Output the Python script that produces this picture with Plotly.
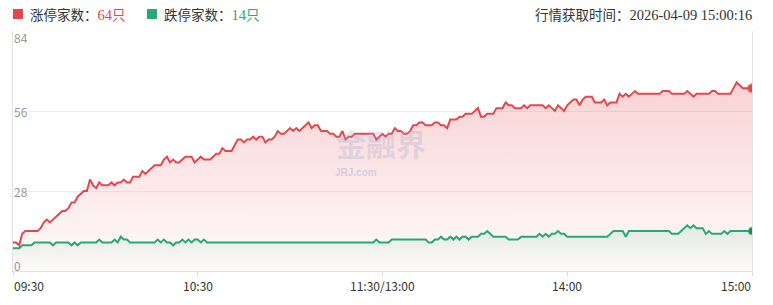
import plotly.graph_objects as go

# ---------------- data ----------------
tick_pos = [0, 60, 120, 180, 240]
tick_labels = ["09:30", "10:30", "11:30/13:00", "14:00", "15:00"]
y_ticks = [0, 28, 56, 84]

minutes = list(range(241))

up_limit = [
    10, 10, 9, 13, 14, 14, 14, 14, 14, 15,
    17, 18, 17, 18, 19, 20, 21, 21, 22, 24,
    24, 26, 27, 28, 28, 32, 30, 29, 31, 30,
    30, 30, 31, 30, 31, 31, 32, 31, 31, 33,
    33, 33, 35, 34, 35, 36, 37, 37, 37, 39,
    40, 38, 39, 38, 38, 39, 40, 40, 40, 38,
    39, 40, 39, 39, 39, 40, 41, 41, 43, 42,
    42, 42, 44, 46, 46, 45, 46, 46, 47, 46,
    47, 47, 45, 46, 46, 47, 49, 48, 48, 49,
    50, 49, 50, 49, 50, 51, 52, 50, 51, 51,
    49, 49, 49, 48, 48, 47, 47, 49, 46, 47,
    47, 48, 48, 48, 48, 48, 48, 48, 46, 47,
    48, 47, 48, 48, 50, 49, 49, 48, 48, 49,
    51, 51, 52, 52, 51, 51, 51, 52, 52, 51,
    51, 50, 53, 53, 53, 54, 54, 55, 55, 55,
    56, 57, 54, 54, 55, 55, 55, 57, 57, 57,
    59, 58, 58, 57, 57, 57, 58, 57, 58, 58,
    58, 58, 58, 57, 58, 57, 56, 58, 57, 56,
    58, 59, 60, 60, 58, 60, 61, 61, 61, 59,
    59, 59, 60, 58, 59, 59, 59, 62, 61, 62,
    61, 62, 63, 62, 62, 62, 62, 62, 62, 62,
    62, 63, 63, 63, 62, 62, 62, 62, 62, 63,
    62, 61, 62, 62, 62, 62, 62, 63, 63, 62,
    62, 62, 62, 62, 64, 66, 65, 64, 64, 64,
    64,
]

down_limit = [
    8, 8, 8, 9, 9, 9, 9, 10, 10, 10,
    10, 10, 10, 9, 10, 10, 10, 10, 10, 9,
    10, 9, 10, 10, 10, 10, 10, 10, 11, 10,
    10, 10, 10, 11, 10, 12, 11, 11, 10, 10,
    10, 10, 10, 10, 10, 10, 10, 11, 10, 11,
    10, 10, 9, 10, 10, 11, 10, 11, 10, 11,
    11, 10, 11, 10, 10, 10, 10, 10, 10, 10,
    10, 10, 10, 10, 10, 10, 10, 10, 10, 10,
    10, 10, 10, 10, 10, 10, 10, 10, 10, 10,
    10, 10, 10, 10, 10, 10, 10, 10, 10, 10,
    10, 10, 10, 10, 10, 10, 10, 10, 10, 10,
    10, 10, 10, 10, 10, 10, 10, 10, 11, 10,
    10, 10, 10, 11, 11, 11, 11, 11, 11, 11,
    11, 11, 11, 11, 11, 10, 10, 11, 11, 12,
    11, 11, 12, 11, 12, 11, 12, 12, 11, 12,
    12, 12, 13, 13, 14, 13, 12, 12, 12, 12,
    12, 11, 11, 11, 11, 12, 12, 12, 12, 12,
    12, 13, 12, 13, 12, 13, 13, 14, 13, 13,
    12, 12, 12, 12, 12, 12, 12, 12, 12, 12,
    12, 12, 12, 12, 13, 14, 14, 14, 14, 12,
    14, 14, 14, 14, 14, 14, 14, 14, 14, 14,
    14, 14, 14, 14, 13, 13, 13, 14, 15, 16,
    15, 16, 15, 15, 15, 13, 14, 13, 13, 13,
    13, 14, 13, 14, 14, 14, 14, 14, 14, 14,
    14,
]
assert len(up_limit) == 241 and len(down_limit) == 241

up_count = up_limit[-1]
down_count = down_limit[-1]
fetch_time = "2026-04-09 15:00:16"

# ---------------- style ----------------
RED = "#e4474d"
GREEN = "#27a874"
W, H = 773, 305
L, R, T, B = 13, 752, 31, 271


def pxx(p):
    return (p - L) / (R - L)


def pxy(p):
    return (B - p) / (B - T)


SANS = "Noto Sans CJK SC, Noto Sans, sans-serif"
SERIF = "Liberation Serif, DejaVu Serif, serif"
NUM_STYLE = f"font-family:{SERIF};font-size:14.5px"

fig = go.Figure()

fig.add_trace(go.Scatter(
    x=minutes, y=up_limit, mode="lines",
    line=dict(color=RED, width=2),
    fill="tozeroy",
    fillgradient=dict(type="vertical", start=0, stop=max(up_limit),
                      colorscale=[[0, "rgba(228,71,77,0.02)"], [1, "rgba(228,71,77,0.24)"]]),
    hoverinfo="skip", showlegend=False,
))
fig.add_trace(go.Scatter(
    x=minutes, y=down_limit, mode="lines",
    line=dict(color=GREEN, width=2),
    fill="tozeroy",
    fillgradient=dict(type="vertical", start=0, stop=max(down_limit),
                      colorscale=[[0, "rgba(39,168,116,0.0)"], [1, "rgba(39,168,116,0.13)"]]),
    hoverinfo="skip", showlegend=False,
))
fig.add_trace(go.Scatter(
    x=[minutes[-1]], y=[up_limit[-1]], mode="markers",
    marker=dict(size=8, color=RED, line=dict(width=3, color="rgba(228,71,77,0.35)")),
    hoverinfo="skip", showlegend=False,
))
fig.add_trace(go.Scatter(
    x=[minutes[-1]], y=[down_limit[-1]], mode="markers",
    marker=dict(size=7, color="#1f8a4c", line=dict(width=2, color="rgba(39,168,116,0.4)")),
    hoverinfo="skip", showlegend=False,
))

annotations = []
# y tick labels
for v in y_ticks:
    shift = 0
    if v == max(y_ticks):
        shift = -6
    elif v == min(y_ticks):
        shift = 6
    annotations.append(dict(
        x=0, xref="paper", y=v, yref="y", text=str(v), showarrow=False,
        xanchor="left", yanchor="middle", yshift=shift, xshift=-1,
        font=dict(size=12, color="#999999", family=SANS),
    ))
# x tick labels
for i, (p, lab) in enumerate(zip(tick_pos, tick_labels)):
    anchor = "center"
    if i == 0:
        anchor = "left"
    elif i == len(tick_pos) - 1:
        anchor = "right"
    annotations.append(dict(
        x=p, xref="x", y=0, yref="paper", text=lab, showarrow=False,
        xanchor=anchor, yanchor="top", yshift=-4,
        xshift=-1 if anchor == "left" else (1 if anchor == "right" else 0),
        font=dict(size=12, color="#333333", family=SANS),
    ))

# legend texts
annotations.append(dict(
    x=pxx(28), xref="paper", y=pxy(14), yref="paper", showarrow=False,
    xanchor="left", yanchor="middle",
    text=f"涨停家数：<span style='color:{RED};{NUM_STYLE}'>{up_count}</span><span style='color:{RED}'>只</span>",
    font=dict(size=13.5, color="#333333", family=SANS),
))
annotations.append(dict(
    x=pxx(162), xref="paper", y=pxy(14), yref="paper", showarrow=False,
    xanchor="left", yanchor="middle",
    text=f"跌停家数：<span style='color:{GREEN};{NUM_STYLE}'>{down_count}</span><span style='color:{GREEN}'>只</span>",
    font=dict(size=13.5, color="#333333", family=SANS),
))
annotations.append(dict(
    x=pxx(754), xref="paper", y=pxy(14), yref="paper", showarrow=False,
    xanchor="right", yanchor="middle",
    text=f"行情获取时间：<span style='{NUM_STYLE}'>{fetch_time}</span>",
    font=dict(size=13.5, color="#333333", family=SANS),
))

# watermark
annotations.append(dict(
    x=pxx(381), xref="paper", y=pxy(143), yref="paper", showarrow=False,
    xanchor="center", yanchor="middle", text="<b>金融界</b>", borderpad=0,
    font=dict(size=30, color="rgba(170,170,210,0.32)", family=SANS),
))
annotations.append(dict(
    x=pxx(334), xref="paper", y=pxy(172), yref="paper", showarrow=False,
    xanchor="left", yanchor="middle", text="<b>JRJ.com</b>", borderpad=0,
    font=dict(size=10, color="rgba(170,170,210,0.45)", family="Liberation Sans, Arial"),
))

shapes = [
    dict(type="rect", xref="paper", yref="paper",
         x0=pxx(13), x1=pxx(23), y0=pxy(19), y1=pxy(9),
         fillcolor=RED, line=dict(width=0)),
    dict(type="rect", xref="paper", yref="paper",
         x0=pxx(147), x1=pxx(157), y0=pxy(19), y1=pxy(9),
         fillcolor=GREEN, line=dict(width=0)),
]

fig.update_layout(
    width=W, height=H,
    margin=dict(l=L, r=W - R, t=T, b=H - B, pad=0),
    paper_bgcolor="white", plot_bgcolor="white",
    showlegend=False,
    annotations=annotations,
    shapes=shapes,
    xaxis=dict(range=[0, 240], showgrid=False, zeroline=False,
               showline=True, linecolor="#e2e2e2", linewidth=1,
               tickvals=tick_pos, ticktext=[""] * len(tick_pos),
               ticks="outside", ticklen=4, tickcolor="#dddddd",
               showticklabels=False, fixedrange=True),
    yaxis=dict(range=[0, 84], tickvals=y_ticks, showticklabels=False,
               showgrid=True, gridcolor="#eeeeee", gridwidth=1, zeroline=False,
               showline=True, linecolor="#e2e2e2", linewidth=1, mirror=True,
               ticks="", fixedrange=True),
)

fig.write_html("out.html", config={"displayModeBar": False})
